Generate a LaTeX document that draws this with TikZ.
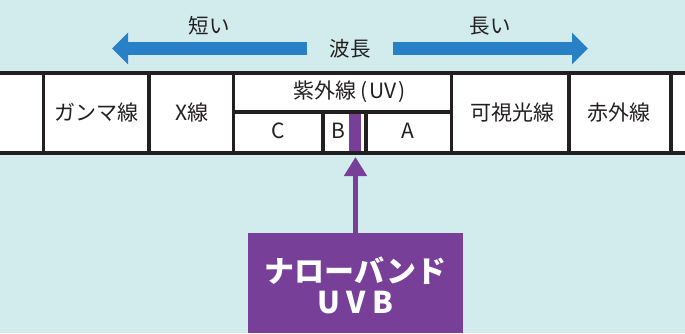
\documentclass[tikz,border=0pt]{standalone}
\usepackage{fontspec}
\setmainfont{Noto Sans CJK JP}
\usetikzlibrary{arrows.meta}
\definecolor{bg}{RGB}{210,235,237}
\definecolor{bluearr}{RGB}{40,128,198}
\definecolor{purp}{RGB}{120,63,153}
\definecolor{ink}{RGB}{35,31,32}
\tikzset{
  tline/.style={draw=ink,line width=3.6pt},
  lbl/.style={text=ink,inner sep=0pt,font=\fontsize{21}{24}\selectfont},
  toplbl/.style={text=ink,inner sep=0pt,font=\fontsize{20.5}{24}\selectfont},
  bluearrow/.style={draw=bluearr,line width=13pt,-{Triangle[length=16pt,width=31pt]}},
  purparrow/.style={draw=purp,line width=5pt,-{Triangle[length=19pt,width=22pt]}},
  purpbox/.style={fill=purp,minimum width=215pt,minimum height=100pt,inner sep=0pt},
  boxtext/.style={text=white,inner sep=0pt,font=\bfseries\fontsize{30}{32}\selectfont}
}
\begin{document}
\begin{tikzpicture}[x=1pt,y=-1pt]
\fill[bg] (0,0) rectangle (685,333);
\useasboundingbox (0,0) rectangle (685,333);
% wavelength arrows
\node[toplbl,inner xsep=22pt] (wl) at (350,49) {波長};
\node[toplbl] (short) at (209,26) {短い};
\node[toplbl] (long) at (490,26) {長い};
\coordinate (tipL) at (112,48.5);
\coordinate (tipR) at (588,48.5);
\draw[bluearrow] (wl.west |- tipL) -- (tipL);
\draw[bluearrow] (wl.east |- tipR) -- (tipR);
% table
\fill[white] (0,73) rectangle (685,153);
\fill[purp] (349,112) rectangle (361,153);
\draw[tline] (0,73) -- (685,73);
\draw[tline] (0,153) -- (685,153);
\foreach \x in {43.5,149,233.5,451.5,569,671}
  \draw[tline] (\x,73) -- (\x,153);
\draw[tline] (233.5,112) -- (451.5,112);
\draw[tline] (323,112) -- (323,153);
\draw[tline] (366,112) -- (366,153);
% labels
\node[lbl] (gamma) at (96,113) {ガンマ線};
\node[lbl] (xray) at (192,113) {X線};
\node[lbl] (uv) at (349.5,92) {紫外線\hspace{4pt}(\hspace{1.5pt}UV\hspace{1.5pt})};
\node[lbl] (uvc) at (278,131) {C};
\node[lbl] (uvb) at (338,131) {B};
\node[lbl] (uva) at (408,131) {A};
\node[lbl] (vis) at (512,113) {可視光線};
\node[lbl] (ir) at (619,113) {赤外線};
% narrowband box
\node[purpbox] (nb) at (355.5,283) {};
\node[boxtext] (nbt1) at (355.5,271) {ナローバンド};
\node[boxtext] (nbt2) at (355.5,303) {U\hspace{6pt}V\hspace{6pt}B};
\coordinate (bar) at (355.5,157);
\draw[purparrow] (nb.north) -- (bar);
\end{tikzpicture}
\end{document}
